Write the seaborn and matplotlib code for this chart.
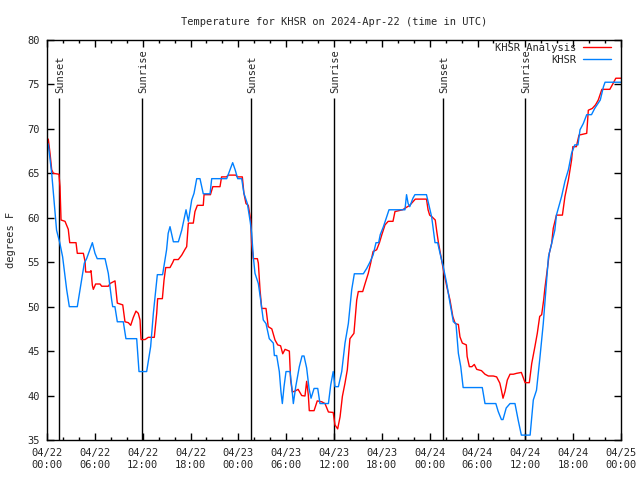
import pandas as pd
import seaborn as sns
import matplotlib.pyplot as plt
import matplotlib.dates as mdates
from matplotlib.transforms import offset_copy

# start of the plotted period (UTC)
start = pd.Timestamp("2024-04-22 00:00")

# KHSR Analysis (red) - hours after start, degrees F
analysis_hours = [0.0, 0.17, 0.38, 0.59, 0.8, 1.5, 1.63, 1.76, 2.26, 2.67, 2.85, 3.64, 3.8, 4.56, 4.77,
                  4.85, 5.4, 5.52, 5.69, 5.81, 6.1, 6.65, 6.86, 7.7, 7.9, 8.32, 8.53, 8.82, 9.16, 9.5,
                  9.78, 10.2, 10.5, 10.83, 11.16, 11.45, 11.67, 11.8, 12.3, 12.7, 13.46, 13.76, 13.88,
                  14.47, 14.68, 14.89, 15.43, 15.76, 15.93, 16.47, 16.9, 17.31, 17.52, 17.73, 18.35,
                  18.56, 18.86, 19.6, 19.7, 20.5, 20.8, 21.7, 21.9, 22.5, 22.75, 23.7, 23.87, 24.5,
                  24.7, 24.96, 25.25, 25.55, 25.67, 25.88, 26.39, 26.51, 26.72, 26.93, 27.47, 27.75,
                  28.2, 28.6, 28.94, 29.3, 29.57, 29.86, 30.4, 30.56, 30.77, 31.1, 31.5, 31.95, 32.36,
                  32.57, 32.78, 32.9, 33.5, 33.9, 34.46, 34.87, 35.3, 35.9, 36.12, 36.46, 36.76, 37.05,
                  37.38, 37.67, 38.0, 38.5, 38.85, 39.05, 39.6, 39.9, 40.3, 40.6, 40.9, 41.35, 41.7,
                  42.0, 42.4, 42.8, 43.4, 43.65, 44.6, 45.5, 46.2, 47.6, 47.8, 48.0, 48.3, 48.7, 48.9,
                  49.1, 49.5, 49.8, 50.2, 50.55, 50.9, 51.2, 51.6, 51.8, 52.1, 52.6, 52.7, 52.98, 53.3,
                  53.6, 53.9, 54.5, 54.94, 55.36, 55.98, 56.4, 56.8, 57.0, 57.2, 57.45, 57.74, 58.08,
                  58.5, 58.9, 59.5, 59.7, 59.97, 60.5, 60.8, 61.2, 61.5, 61.8, 62.05, 62.3, 62.45, 62.8,
                  63.0, 63.3, 63.5, 63.9, 64.65, 64.97, 65.4, 65.8, 65.96, 66.4, 66.73, 67.7, 67.9,
                  68.4, 68.8, 69.15, 69.6, 70.6, 71.0, 71.35, 72.0]
analysis_temps = [69.0, 68.8, 67.25, 65.4, 65.0, 64.9, 63.5, 59.75, 59.6, 58.7, 57.2, 57.2, 56.0, 56.0, 55.1,
                  53.9, 53.9, 54.05, 52.4, 51.95, 52.55, 52.55, 52.3, 52.3, 52.6, 52.8, 52.9, 50.4, 50.3, 50.2,
                  48.3, 48.2, 47.9, 48.8, 49.5, 49.25, 48.5, 46.3, 46.3, 46.55, 46.55, 49.25, 50.9,
                  50.9, 53.0, 54.4, 54.4, 54.95, 55.3, 55.3, 55.8, 56.45, 56.75, 59.4, 59.4,
                  60.7, 61.4, 61.4, 62.6, 62.6, 63.5, 63.5, 64.6, 64.6, 64.8, 64.8, 64.6, 64.6,
                  62.75, 61.6, 61.4, 59.75, 57.1, 55.4, 55.4, 54.9, 51.9, 49.8, 49.8, 47.75,
                  47.5, 46.25, 45.7, 45.6, 44.7, 45.2, 45.0, 41.75, 40.4, 40.5, 40.7, 40.0, 39.95,
                  41.6, 40.05, 38.3, 38.3, 39.4, 39.3, 39.1, 38.15, 38.1, 36.7, 36.25, 37.6, 39.9,
                  41.4, 42.9, 46.4, 47.0, 50.75, 51.7, 51.7, 52.6, 53.75, 54.9, 56.2, 56.4, 57.2,
                  58.1, 59.2, 59.6, 59.6, 60.7, 60.9, 61.4, 62.1, 62.1, 60.9, 60.3, 60.1, 59.75, 58.4,
                  57.2, 55.25, 53.75, 52.05, 50.75, 48.9, 48.1, 48.0, 46.6, 45.9, 45.7, 44.4, 43.25, 43.25,
                  43.5, 42.95, 42.8, 42.4, 42.2, 42.2, 42.1, 41.4, 40.6, 39.7, 40.45, 41.75, 42.4,
                  42.4, 42.5, 42.6, 42.1, 41.45, 41.45, 43.6, 45.5, 47.0, 48.9, 49.1, 50.75, 52.05, 54.5,
                  56.0, 57.1, 58.8, 60.3, 60.3, 62.4, 64.25, 66.5, 68.0, 68.0, 69.3, 69.5, 72.1,
                  72.3, 72.7, 73.25, 74.45, 74.45, 75.1, 75.7, 75.7]

# KHSR observations (blue)
obs_hours = [0.0, 0.17, 0.59, 1.2, 1.6, 1.96, 2.47, 2.8, 3.8, 4.14, 4.68, 4.97, 5.48, 5.69, 6.02, 6.3,
             7.28, 7.69, 8.11, 8.24, 8.52, 8.82, 9.57, 9.9, 11.25, 11.54, 12.5, 13.0, 13.34, 13.84,
             14.5, 15.0, 15.2, 15.43, 15.85, 16.48, 16.9, 17.44, 17.73, 18.15, 18.44, 18.78, 19.19,
             19.6, 20.45, 20.66, 22.54, 22.96, 23.29, 23.6, 23.92, 24.42, 24.7, 25.13, 25.5, 25.67,
             25.88, 26.09, 26.51, 26.8, 27.13, 27.47, 27.88, 28.39, 28.52, 28.81, 29.14, 29.35, 29.52,
             29.73, 29.98, 30.48, 30.7, 30.9, 31.2, 31.65, 31.99, 32.24, 32.57, 32.87, 33.12, 33.5,
             33.96, 34.24, 35.3, 35.59, 35.9, 36.12, 36.55, 36.97, 37.38, 37.8, 38.22, 38.55, 39.68,
             40.1, 40.5, 40.9, 41.27, 41.6, 41.8, 42.2, 42.6, 42.9, 44.9, 45.1, 45.3, 45.5, 45.9,
             46.15, 47.6, 47.95, 48.25, 48.46, 48.67, 49.0, 49.3, 49.7, 50.14, 50.55, 50.97, 51.3,
             51.6, 51.9, 52.2, 54.6, 54.94, 56.3, 56.6, 57.0, 57.2, 57.6, 58.08, 58.7, 59.1, 59.5,
             60.6, 61.0, 61.4, 61.8, 62.25, 62.7, 62.9, 63.3, 63.7, 63.9, 64.55, 64.97, 65.4, 65.8,
             66.2, 66.6, 66.86, 67.27, 67.7, 68.3, 68.7, 69.4, 69.8, 70.0, 72.0]
obs_temps = [68.5, 68.2, 65.0, 58.6, 57.2, 55.6, 51.9, 50.0, 50.0, 51.9, 54.9, 55.4, 56.7, 57.2, 56.0, 55.4,
             55.4, 53.75, 50.75, 50.0, 50.0, 48.3, 48.3, 46.4, 46.4, 42.7, 42.7, 45.5, 49.25, 53.6,
             53.6, 56.4, 58.25, 59.0, 57.3, 57.3, 58.6, 60.9, 59.6, 62.0, 62.75, 64.4, 64.4,
             62.7, 62.7, 64.4, 64.4, 65.4, 66.2, 65.4, 64.4, 64.4, 62.75, 61.6, 59.5, 58.25,
             55.6, 53.75, 52.6, 50.75, 48.5, 48.1, 46.4, 45.9, 44.5, 44.5, 42.7, 40.4, 39.1,
             41.0, 42.7, 42.7, 41.0, 39.1, 41.0, 43.25, 44.45, 44.45, 43.1, 40.8, 39.7, 40.8,
             40.8, 39.1, 39.1, 41.2, 42.7, 41.0, 41.0, 42.7, 45.9, 48.1, 51.9, 53.7, 53.7,
             54.3, 55.0, 55.8, 57.2, 57.2, 58.1, 59.0, 60.1, 60.9, 60.9, 62.6, 61.6, 61.25, 62.2,
             62.6, 62.6, 61.25, 60.1, 58.6, 57.2, 57.2, 56.0, 54.5, 52.6, 50.4, 48.3, 48.1,
             44.75, 43.25, 40.9, 40.9, 39.1, 39.1, 38.2, 37.3, 37.3, 38.6, 39.1, 39.1, 37.25, 35.55,
             35.55, 39.5, 40.6, 44.0, 48.1, 53.2, 55.6, 57.1, 58.6, 60.3, 62.4, 64.1, 65.4, 67.25,
             68.2, 68.2, 69.9, 70.6, 71.6, 71.6, 72.3, 73.25, 74.75, 75.25, 75.25]

sunset_hours = [1.54, 25.63, 49.72]
sunrise_hours = [11.95, 36.0, 60.0]

analysis = pd.DataFrame({"time": start + pd.to_timedelta(analysis_hours, unit="h"), "temp": analysis_temps})
obs = pd.DataFrame({"time": start + pd.to_timedelta(obs_hours, unit="h"), "temp": obs_temps})

sns.set_theme(style="ticks")
plt.rcParams["font.family"] = ["DejaVu Sans Mono"]
plt.rcParams["font.size"] = 7.5

fig = plt.figure(figsize=(6.4, 4.8), dpi=100)
ax = fig.add_axes([47 / 640, 40 / 480, 574 / 640, 400 / 480])

# sunrise / sunset markers, label nudged a pixel right like gnuplot
label_tr = offset_copy(ax.transData, fig=fig, x=1, y=0, units="dots")
events = [(h, "Sunset") for h in sunset_hours] + [(h, "Sunrise") for h in sunrise_hours]
for h, name in events:
    t = start + pd.Timedelta(hours=h)
    ax.vlines(t, 35, 73.5, color="black", lw=1)
    ax.text(t, 74, name, rotation=90, ha="center", va="bottom", fontsize=7.5, transform=label_tr)

sns.lineplot(data=analysis, x="time", y="temp", color="#ff0000", lw=1, label="KHSR Analysis",
             estimator=None, ax=ax)
sns.lineplot(data=obs, x="time", y="temp", color="#0080ff", lw=1, label="KHSR",
             estimator=None, ax=ax)

ax.set_xlim(start, start + pd.Timedelta(hours=72))
ax.set_ylim(35, 80)
ax.set_yticks(range(35, 81, 5))
ax.xaxis.set_major_locator(mdates.HourLocator(byhour=[0, 6, 12, 18]))
ax.xaxis.set_minor_locator(mdates.HourLocator(interval=2))
ax.xaxis.set_major_formatter(mdates.DateFormatter("%m/%d\n%H:%M"))

for side in ["top", "right", "bottom", "left"]:
    ax.spines[side].set_visible(True)
    ax.spines[side].set_color("black")
    ax.spines[side].set_linewidth(1)
ax.tick_params(which="major", direction="in", top=True, right=True, length=5, width=1,
               color="black", labelsize=7.5, pad=6)
ax.tick_params(which="minor", direction="in", top=True, bottom=True, length=2.5, width=1, color="black")
ax.tick_params(axis="y", pad=5)

ax.set_xlabel("")
ax.set_ylabel("degrees F", fontsize=7.5, labelpad=8)
ax.set_title("Temperature for KHSR on 2024-Apr-22 (time in UTC)", fontsize=7.5, pad=11)

ax.legend(loc="upper right", bbox_to_anchor=(1 - 10 / 574, 1 - 3 / 400), markerfirst=False,
          frameon=False, handlelength=2.7, borderaxespad=0, labelspacing=0.2,
          handletextpad=0.6, fontsize=7.5, borderpad=0)

fig.savefig("out.png", dpi=100)
